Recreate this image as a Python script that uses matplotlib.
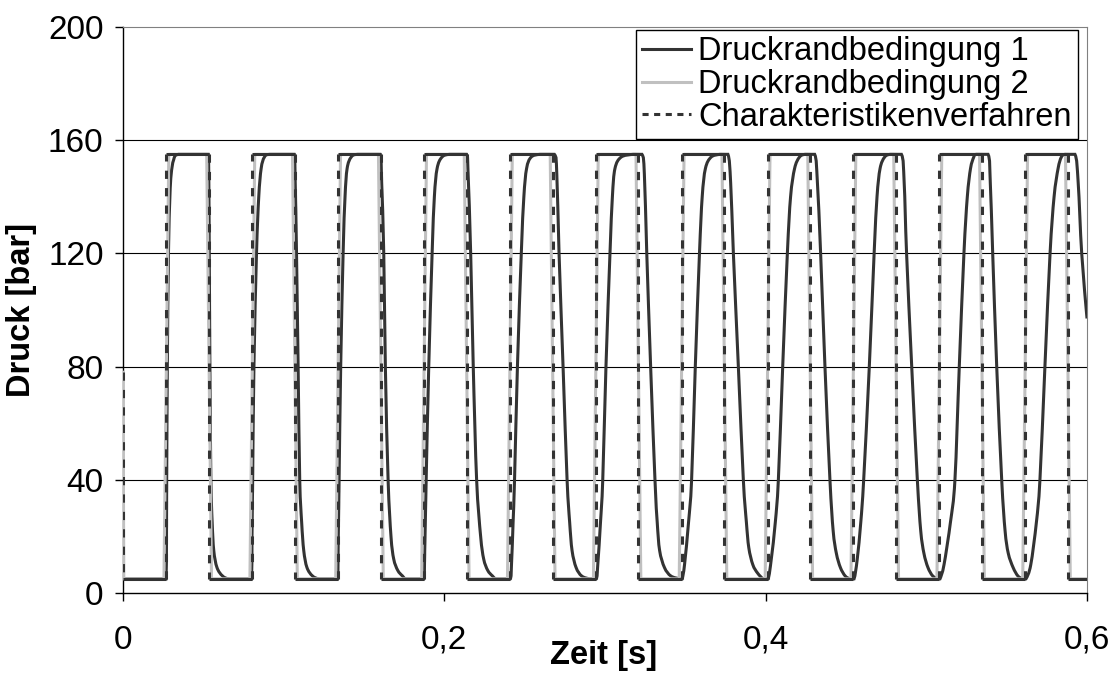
"""
Druckverlauf: Vergleich zweier Druckrandbedingungen mit dem Charakteristikenverfahren.
"""
import matplotlib
matplotlib.use("Agg")
import matplotlib.pyplot as plt
from matplotlib.path import Path
from matplotlib.patches import PathPatch

plt.rcParams["font.family"] = ["Liberation Sans", "DejaVu Sans"]

# --- data ----------------------------------------------------------------
p_low = 5.0
p_high = 155.0
p_start = 78.0
t_end = 0.6

# switching times of the square wave (Charakteristikenverfahren)
rise_times = [0.0270, 0.0805, 0.1339, 0.1874, 0.2408, 0.2943,
              0.3477, 0.4012, 0.4546, 0.5081, 0.5615]
fall_times = [0.0536, 0.1070, 0.1605, 0.2139, 0.2674, 0.3208,
              0.3743, 0.4277, 0.4812, 0.5346, 0.5881]

# Druckrandbedingung 2 switches with a short ramp around the same times
ramp_time = 0.003

# Druckrandbedingung 1 (smoothed, lagging response)
dark_t = [
    0.0,
    0.0268, 0.0272, 0.0276, 0.0283, 0.0292, 0.0300, 0.0315, 0.0345,
    0.0530, 0.0535, 0.0537, 0.0541, 0.0547, 0.0555, 0.0565, 0.0585, 0.0620, 0.0665,
    0.0800, 0.0803, 0.0807, 0.0815, 0.0831, 0.0845, 0.0860, 0.0880, 0.0914,
    0.1065, 0.1072, 0.1080, 0.1090, 0.1100, 0.1112, 0.1125, 0.1145, 0.1180, 0.1225,
    0.1335, 0.1340, 0.1345, 0.1355, 0.1370, 0.1382, 0.1395, 0.1420, 0.1460,
    0.1600, 0.1610, 0.1623, 0.1633, 0.1650, 0.1668, 0.1685, 0.1710, 0.1740, 0.1765,
    0.1872, 0.1878, 0.1887, 0.1903, 0.1924, 0.1938, 0.1955, 0.1985, 0.2033,
    0.2138, 0.2148, 0.2164, 0.2180, 0.2201, 0.2226, 0.2245, 0.2270, 0.2300, 0.2325,
    0.2410, 0.2418, 0.2428, 0.2437, 0.2455, 0.2479, 0.2495, 0.2512, 0.2540, 0.2595,
    0.2685, 0.2700, 0.2714, 0.2739, 0.2764, 0.2780, 0.2795, 0.2820, 0.2855, 0.2905,
    0.2945, 0.2955, 0.2972, 0.2986, 0.3006, 0.3031, 0.3046, 0.3062, 0.3100, 0.3174,
    0.3230, 0.3245, 0.3260, 0.3284, 0.3311, 0.3325, 0.3340, 0.3370, 0.3410, 0.3467,
    0.3480, 0.3495, 0.3520, 0.3539, 0.3562, 0.3588, 0.3605, 0.3625, 0.3660, 0.3715,
    0.3765, 0.3782, 0.3799, 0.3830, 0.3861, 0.3880, 0.3895, 0.3920, 0.3950, 0.3985,
    0.4015, 0.4035, 0.4060, 0.4079, 0.4106, 0.4135, 0.4155, 0.4180, 0.4210, 0.4245,
    0.4305, 0.4322, 0.4342, 0.4369, 0.4400, 0.4420, 0.4440, 0.4465, 0.4495, 0.4525,
    0.4550, 0.4570, 0.4592, 0.4610, 0.4645, 0.4675, 0.4693, 0.4712, 0.4740, 0.4775,
    0.4845, 0.4862, 0.4877, 0.4909, 0.4944, 0.4965, 0.4985, 0.5010, 0.5040, 0.5075,
    0.5085, 0.5110, 0.5150, 0.5178, 0.5205, 0.5234, 0.5255, 0.5275, 0.5295, 0.5310,
    0.5384, 0.5398, 0.5413, 0.5438, 0.5469, 0.5490, 0.5510, 0.5540, 0.5570, 0.5600,
    0.5620, 0.5650, 0.5685, 0.5707, 0.5738, 0.5770, 0.5795, 0.5820, 0.5840, 0.5863,
    0.5925, 0.5945, 0.5967, 0.6000,
]
dark_p = [
    5,
    5, 40, 80, 120, 140, 148, 153, 155,
    155, 140, 120, 80, 40, 25, 15, 9, 6, 5,
    5, 20, 40, 80, 120, 140, 150, 154, 155,
    155, 145, 120, 80, 40, 25, 15, 9, 6, 5,
    5, 20, 40, 80, 120, 140, 150, 154, 155,
    155, 145, 120, 80, 40, 20, 12, 8, 6, 5,
    5, 15, 40, 80, 120, 140, 150, 154, 155,
    155, 148, 120, 80, 40, 20, 12, 8, 6, 5,
    5, 10, 25, 40, 80, 120, 140, 150, 154, 155,
    155, 148, 120, 80, 40, 25, 15, 9, 6, 5,
    5, 10, 25, 40, 80, 120, 140, 150, 154, 155,
    155, 148, 120, 80, 40, 25, 15, 9, 6, 5,
    5, 10, 25, 40, 80, 120, 140, 150, 154, 155,
    155, 145, 120, 80, 40, 25, 16, 10, 7, 5,
    5, 12, 25, 40, 80, 120, 140, 150, 154, 155,
    155, 145, 120, 80, 40, 22, 14, 9, 6, 5,
    5, 12, 25, 40, 80, 120, 140, 150, 154, 155,
    155, 145, 120, 80, 40, 22, 14, 9, 6, 5,
    5, 10, 25, 40, 80, 120, 140, 150, 154, 155,
    155, 145, 120, 80, 40, 22, 14, 9, 6, 5,
    5, 10, 25, 40, 80, 120, 140, 150, 154, 155,
    155, 145, 120, 97,
]

x_ticks = [0.0, 0.2, 0.4, 0.6]
x_tick_labels = ["0", "0,2", "0,4", "0,6"]
y_ticks = [0, 40, 80, 120, 160, 200]
y_tick_labels = ["0", "40", "80", "120", "160", "200"]

labels = ["Druckrandbedingung 1", "Druckrandbedingung 2", "Charakteristikenverfahren"]


def smooth_path(xs, ys):
    """Smoothed line through the points (Catmull-Rom as Bezier, no overshoot)."""
    verts = [(xs[0], ys[0])]
    codes = [Path.MOVETO]
    n = len(xs)
    for i in range(n - 1):
        x0, y0 = (xs[i - 1], ys[i - 1]) if i > 0 else (xs[i], ys[i])
        x1, y1 = xs[i], ys[i]
        x2, y2 = xs[i + 1], ys[i + 1]
        x3, y3 = (xs[i + 2], ys[i + 2]) if i + 2 < n else (x2, y2)
        lo, hi = min(y1, y2), max(y1, y2)
        c1 = (x1 + (x2 - x0) / 6, min(max(y1 + (y2 - y0) / 6, lo), hi))
        c2 = (x2 - (x3 - x1) / 6, min(max(y2 - (y3 - y1) / 6, lo), hi))
        # keep the control points inside the segment in time
        c1 = (min(max(c1[0], x1), x2), c1[1])
        c2 = (min(max(c2[0], x1), x2), c2[1])
        verts += [c1, c2, (x2, y2)]
        codes += [Path.CURVE4] * 3
    return Path(verts, codes)


# --- build the step series from the switching times -----------------------
step_t = [0.0, 0.0]
step_p = [p_start, p_low]
gray_t = [0.0, 0.0005]
gray_p = [p_start, p_low]
for r, f in zip(rise_times, fall_times):
    step_t += [r, r, f, f]
    step_p += [p_low, p_high, p_high, p_low]
    gray_t += [r - ramp_time / 2, r + ramp_time / 2, f - ramp_time / 2, f + ramp_time / 2]
    gray_p += [p_low, p_high, p_high, p_low]
step_t.append(t_end)
step_p.append(p_low)
gray_t.append(t_end)
gray_p.append(p_low)

# --- plot -------------------------------------------------------------------
dark = "#333333"
light = "#c0c0c0"
lw = 2.2
fs_tick = 24
fs_label = 23.5
fs_legend = 23.5

fig = plt.figure(figsize=(11.15, 6.73), dpi=100)
ax = fig.add_axes([0.1103, 0.1189, 0.8646, 0.8410])

ax.add_patch(PathPatch(smooth_path(dark_t, dark_p), facecolor="none",
                       edgecolor=dark, lw=lw, zorder=3))
ax.plot(gray_t, gray_p, color=light, lw=lw, zorder=4)

# the dashed series: vertical jumps dashed, flat parts look solid
flat_t, flat_p, jump_t, jump_p = [], [], [], []
for i in range(len(step_t) - 1):
    seg_t = [step_t[i], step_t[i + 1], None]
    seg_p = [step_p[i], step_p[i + 1], None]
    if step_t[i] == step_t[i + 1]:
        jump_t += seg_t
        jump_p += seg_p
    else:
        flat_t += seg_t
        flat_p += seg_p
ax.plot(flat_t, flat_p, color=dark, lw=lw, solid_capstyle="butt", zorder=5)
ax.plot(jump_t, jump_p, color=dark, lw=lw, dashes=(2.7, 3.0), zorder=5)

ax.set_xlim(0, 0.6)
ax.set_ylim(0, 200)
ax.set_xticks(x_ticks)
ax.set_xticklabels(x_tick_labels)
ax.set_yticks(y_ticks)
ax.set_yticklabels(y_tick_labels)
ax.tick_params(axis="both", direction="out", length=6, width=1,
               labelsize=fs_tick, colors="black")
ax.tick_params(axis="x", pad=17)
ax.tick_params(axis="y", pad=8)

for y in y_ticks[1:-1]:
    ax.axhline(y, color="black", lw=0.8, zorder=1)

ax.spines["left"].set_color("black")
ax.spines["bottom"].set_color("black")
ax.spines["left"].set_linewidth(1.0)
ax.spines["bottom"].set_linewidth(1.0)
ax.spines["top"].set_color("#808080")
ax.spines["right"].set_color("#808080")

fig.text(0.5417, 0.026, "Zeit [s]", fontsize=fs_label, fontweight="bold",
         ha="center", va="center")
fig.text(0.019, 0.54, "Druck [bar]", fontsize=fs_label, fontweight="bold",
         ha="center", va="center", rotation=90)

handles = [
    plt.Line2D([], [], color=dark, lw=lw),
    plt.Line2D([], [], color=light, lw=lw),
    plt.Line2D([], [], color=dark, lw=lw, dashes=(2.0, 1.8)),
]
leg = ax.legend(handles, labels, loc="upper right", bbox_to_anchor=(0.991, 0.995),
                fontsize=fs_legend, frameon=True, fancybox=False, shadow=False,
                borderpad=0.2, labelspacing=0.05, handlelength=1.5,
                handletextpad=0.22, borderaxespad=0.0)
leg.get_frame().set_edgecolor("black")
leg.get_frame().set_linewidth(1.0)
leg.get_frame().set_facecolor("white")
leg.get_frame().set_alpha(1.0)
leg.set_zorder(10)

fig.savefig("out.png", dpi=100)
